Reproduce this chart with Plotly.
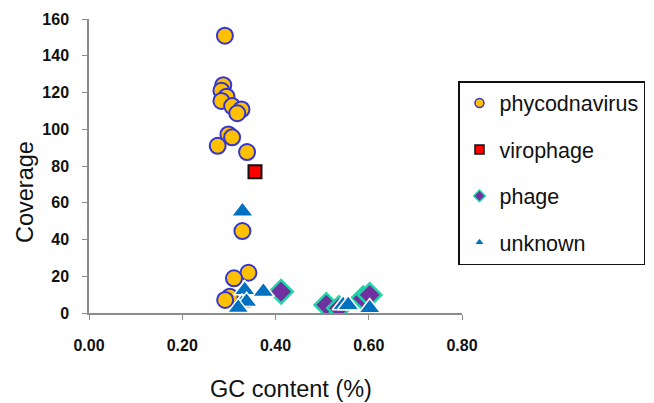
import plotly.graph_objects as go

# Data
phyco_x = [0.2915, 0.288, 0.284, 0.295, 0.284, 0.307, 0.327, 0.318, 0.299, 0.307,
           0.276, 0.339, 0.329, 0.342, 0.311, 0.302, 0.292]
phyco_y = [150.9, 124.0, 121.0, 117.7, 115.4, 112.6, 110.8, 108.7, 97.2, 95.6,
           91.0, 87.6, 44.6, 21.9, 18.9, 8.9, 7.1]

viro_x = [0.356]
viro_y = [76.9]

phage_x = [0.412, 0.509, 0.536, 0.588, 0.602]
phage_y = [11.6, 4.4, 2.7, 8.0, 9.8]

unk_x = [0.329, 0.334, 0.374, 0.328, 0.338, 0.320, 0.545, 0.556, 0.602]
unk_y = [55.3, 12.5, 11.6, 5.2, 6.1, 2.8, 4.4, 4.4, 2.7]

x_ticks = [0.0, 0.2, 0.4, 0.6, 0.8]
y_ticks = [0, 20, 40, 60, 80, 100, 120, 140, 160]

FONT = "Liberation Sans, Arial, sans-serif"

series = [
    ("phycodnavirus", phyco_x, phyco_y, "circle", 16, "#FFC000", "#3535D0", 2),
    ("virophage", viro_x, viro_y, "square", 13, "#FF0000", "#111111", 2),
    ("phage", phage_x, phage_y, "diamond", 18, "#7030A0", "#1FD6A6", 2.5),
    ("unknown", unk_x, unk_y, "triangle-up", 19, "#0070C0", "#FFFFFF", 1.5),
]

legend_sizes = {"phycodnavirus": 9, "virophage": 9, "phage": 9, "unknown": 7}

fig = go.Figure()
for name, xs, ys, sym, sz, fill, edge, lw in series:
    fig.add_trace(go.Scatter(
        x=xs, y=ys, mode="markers", name=name, showlegend=False,
        marker=dict(symbol=sym, size=sz, color=fill, line=dict(color=edge, width=lw)),
    ))
for name, xs, ys, sym, sz, fill, edge, lw in series:
    fig.add_trace(go.Scatter(
        x=[None], y=[None], mode="markers", name=name, legendgroup=name,
        marker=dict(symbol=sym, size=legend_sizes[name], color=fill,
                    line=dict(color=edge, width=min(lw, 1.5) if edge != "#FFFFFF" else 0)),
    ))

axis_common = dict(
    showgrid=False, zeroline=False, showline=True, linecolor="#8C8C8C", linewidth=1.5,
    ticks="outside", ticklen=5, tickcolor="#8C8C8C", tickwidth=1, automargin=False,
    tickfont=dict(family=FONT, size=16, color="#111111", weight="bold"),
)

# the page body has an 8px margin, so the figure is sized and offset for it
fig.update_layout(
    width=646, height=395,
    margin=dict(l=81, r=192, t=11, b=90, autoexpand=False),
    paper_bgcolor="white", plot_bgcolor="white",
    xaxis=dict(range=[0, 0.8], tickvals=x_ticks, tickformat=".2f",
               ticklabelstandoff=12, **axis_common),
    yaxis=dict(range=[0, 160], tickvals=y_ticks, ticklabelstandoff=10, **axis_common),
    showlegend=True,
    legend=dict(
        x=(458 - 89) / 373, xanchor="left", y=(313 - 81) / 294, yanchor="top",
        bgcolor="white", bordercolor="#111111", borderwidth=1.5,
        font=dict(family=FONT, size=21.5, color="#111111"),
        tracegroupgap=15.5, itemsizing="trace",
    ),
    annotations=[
        dict(text="GC content (%)", xref="paper", yref="paper",
             x=(291 - 89) / 373, y=(313 - 389) / 294, showarrow=False,
             font=dict(family=FONT, size=23.5, color="#111111"),
             xanchor="center", yanchor="middle"),
        dict(text="Coverage", xref="paper", yref="paper",
             x=(25 - 89) / 373, y=(313 - 192) / 294, showarrow=False, textangle=-90,
             font=dict(family=FONT, size=23.5, color="#111111"),
             xanchor="center", yanchor="middle"),
    ],
)

fig.write_html("out.html")
